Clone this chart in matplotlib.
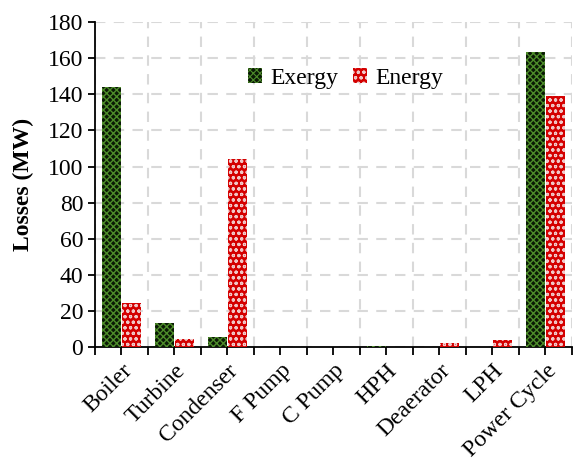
import matplotlib
matplotlib.use("Agg")
import matplotlib.pyplot as plt
import numpy as np

categories = ["Boiler", "Turbine", "Condenser", "F Pump", "C Pump", "HPH", "Deaerator", "LPH", "Power Cycle"]
exergy = [144, 13.3, 5.5, 0, 0, 0.8, 0, 0, 163.3]
energy = [24.3, 4.3, 104, 0, 0, 0, 2.4, 3.8, 139]
yticks = [0, 20, 40, 60, 80, 100, 120, 140, 160, 180]

plt.rcParams['font.family'] = ['Liberation Serif', 'DejaVu Serif']

fig = plt.figure(figsize=(5.74, 4.61), dpi=100)
ax = fig.add_axes([0.1655, 0.2473, 0.831, 0.7047])

x = np.arange(len(categories))
w = 0.36
plt.rcParams['hatch.linewidth'] = 1.0
b1 = ax.bar(x - 0.19, exergy, w, color='#0a1a05', hatch='xxxxx', edgecolor='#4d8c2a', linewidth=0, label='Exergy', zorder=3)
plt.rcParams['hatch.linewidth'] = 0.8
b2 = ax.bar(x + 0.19, energy, w, color='#d40000', edgecolor='#f0c8c8', hatch='ooo', linewidth=0, label='Energy', zorder=3)

ax.set_xlim(-0.5, len(categories) - 0.5)
ax.set_ylim(0, 180)
ax.set_yticks(yticks)
ax.set_xticks(np.arange(-0.5, len(categories), 1.0))
ax.set_xticklabels([])
ax.set_xticks(x, minor=True)
ax.set_xticklabels(categories, minor=True, rotation=45, ha='right', rotation_mode='anchor', fontsize=17)
ax.tick_params(axis='x', which='both', direction='out', length=6, width=1.3)
ax.tick_params(axis='y', direction='out', length=5, width=1.3, labelsize=17)
ax.grid(True, which='major', color='#d9d9d9', linestyle=(0, (5, 4)), linewidth=1.5, zorder=0)
for s in ['top', 'right']:
    ax.spines[s].set_visible(False)
for s in ['left', 'bottom']:
    ax.spines[s].set_linewidth(1.3)
ax.set_ylabel('Losses (MW)', fontsize=17, fontweight='bold', labelpad=10)
ax.legend(loc='center', bbox_to_anchor=(0.525, 0.828), ncol=2, frameon=False, fontsize=17,
          handlelength=0.6, handleheight=0.6, handletextpad=0.35, columnspacing=0.6)
fig.savefig('out.png', dpi=100)
